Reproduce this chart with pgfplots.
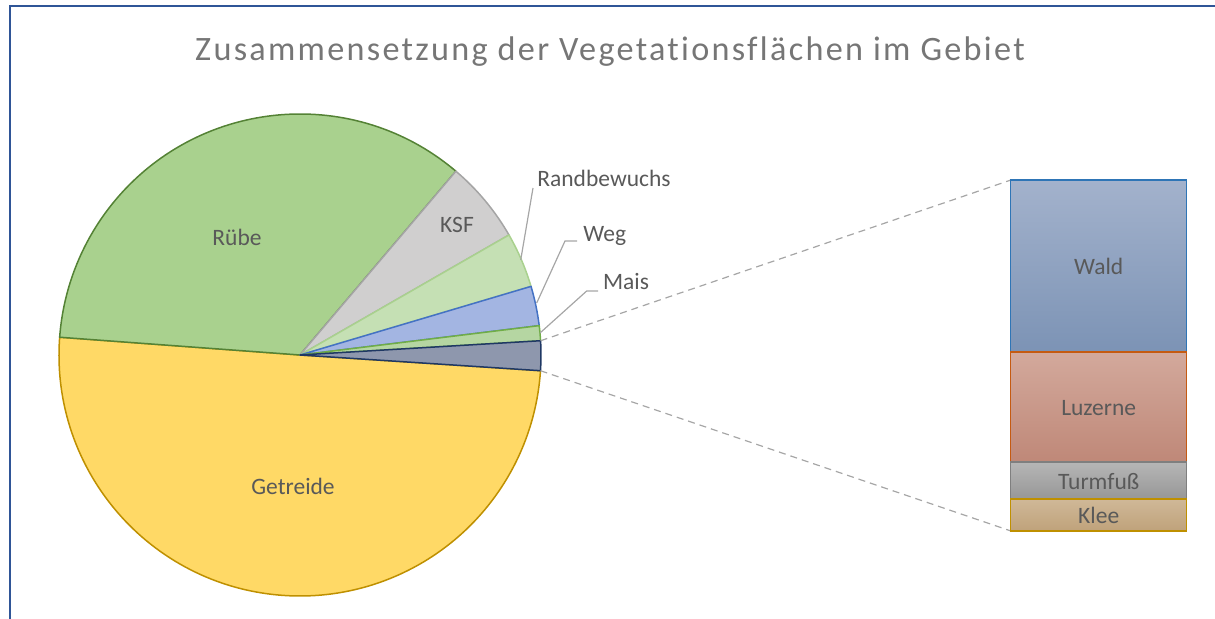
\documentclass[border=0pt]{standalone}
\usepackage{pgfplots}
\pgfplotsset{compat=1.18}
\usepackage{fontspec}
\setmainfont{Carlito}
\newfontfamily\titlefont[LetterSpace=6.7,Ligatures=NoCommon]{Carlito}
\definecolor{txt}{HTML}{595959}
\definecolor{ttl}{HTML}{767676}
\definecolor{frame}{HTML}{2F5597}
\definecolor{lead}{HTML}{A6A6A6}
\definecolor{getF}{HTML}{FFD966}\definecolor{getE}{HTML}{BF9000}
\definecolor{rubF}{HTML}{A9D18E}\definecolor{rubE}{HTML}{548235}
\definecolor{ksfF}{HTML}{D0CFCF}\definecolor{ksfE}{HTML}{A5A5A5}
\definecolor{ranF}{HTML}{C5E0B4}\definecolor{ranE}{HTML}{A9D18E}
\definecolor{wegF}{HTML}{A3B5E2}\definecolor{wegE}{HTML}{4472C4}
\definecolor{maiF}{HTML}{B5D6A2}\definecolor{maiE}{HTML}{70AD47}
\definecolor{othF}{HTML}{8E97AD}\definecolor{othE}{HTML}{1F3864}
\definecolor{kleT}{HTML}{CFB898}\definecolor{kleB}{HTML}{BFA27A}\definecolor{kleE}{HTML}{BF9000}
\definecolor{turT}{HTML}{B6B6B6}\definecolor{turB}{HTML}{979797}\definecolor{turE}{HTML}{7F7F7F}
\definecolor{luzT}{HTML}{D3A99C}\definecolor{luzB}{HTML}{BF8878}\definecolor{luzE}{HTML}{C55A11}
\definecolor{walT}{HTML}{A3B2CC}\definecolor{walB}{HTML}{7C93B5}\definecolor{walE}{HTML}{2E75B6}
\begin{document}
\begin{tikzpicture}[x=1bp,y=1bp]
\useasboundingbox (0,0) rectangle (1215,619);
% --- data (percent of area) ---
\def\vGetreide{50.1}\def\vRuebe{35.0}\def\vKSF{5.5}\def\vRand{3.7}\def\vWeg{2.65}\def\vMais{1.0}
\def\vWald{0.97}\def\vLuzerne{0.62}\def\vTurm{0.21}\def\vKlee{0.18}
\pgfmathsetmacro{\vOther}{\vWald+\vLuzerne+\vTurm+\vKlee}
\pgfmathsetmacro{\vTot}{\vGetreide+\vRuebe+\vKSF+\vRand+\vWeg+\vMais+\vOther}
\pgfmathsetmacro{\degk}{360/\vTot}
\pgfmathsetmacro{\aA}{-3.74}
\pgfmathsetmacro{\aB}{\aA+\vOther*\degk}
\pgfmathsetmacro{\aC}{\aB+\vMais*\degk}
\pgfmathsetmacro{\aD}{\aC+\vWeg*\degk}
\pgfmathsetmacro{\aE}{\aD+\vRand*\degk}
\pgfmathsetmacro{\aF}{\aE+\vKSF*\degk}
\pgfmathsetmacro{\aG}{\aF+\vRuebe*\degk}
\pgfmathsetmacro{\aH}{\aG+\vGetreide*\degk}
\def\R{241bp}
\begin{axis}[at={(0bp,0bp)},anchor=south west,x=1bp,y=1bp,
  xmin=0,xmax=1215,ymin=0,ymax=619,hide axis,clip=false]
 % frame
 \draw[frame,line width=2bp] (axis cs:9.5,0) -- (axis cs:9.5,612.5) -- (axis cs:1215,612.5);
 % title
 \node[ttl,anchor=base,font=\titlefont\fontsize{34.2bp}{40bp}\selectfont] at (axis cs:610,558) {Zusammensetzung der Vegetationsflächen im Gebiet};
 % pie slices
 \begin{scope}[line width=1.5bp,line join=round]
 \filldraw[fill=getF,draw=getE] (axis cs:300,264) -- ++(\aG:\R) arc[start angle=\aG,end angle=\aH,radius=\R] -- cycle;
 \filldraw[fill=rubF,draw=rubE] (axis cs:300,264) -- ++(\aF:\R) arc[start angle=\aF,end angle=\aG,radius=\R] -- cycle;
 \filldraw[fill=ksfF,draw=ksfE] (axis cs:300,264) -- ++(\aE:\R) arc[start angle=\aE,end angle=\aF,radius=\R] -- cycle;
 \filldraw[fill=ranF,draw=ranE] (axis cs:300,264) -- ++(\aD:\R) arc[start angle=\aD,end angle=\aE,radius=\R] -- cycle;
 \filldraw[fill=wegF,draw=wegE] (axis cs:300,264) -- ++(\aC:\R) arc[start angle=\aC,end angle=\aD,radius=\R] -- cycle;
 \filldraw[fill=maiF,draw=maiE] (axis cs:300,264) -- ++(\aB:\R) arc[start angle=\aB,end angle=\aC,radius=\R] -- cycle;
 \filldraw[fill=othF,draw=othE] (axis cs:300,264) -- ++(\aA:\R) arc[start angle=\aA,end angle=\aB,radius=\R] -- cycle;
 \end{scope}
 % connectors to bar
 \draw[lead,line width=1.2bp,dash pattern=on 7bp off 5bp] (axis cs:300,264) ++(\aB:\R) -- (axis cs:1011,439);
 \draw[lead,line width=1.2bp,dash pattern=on 7bp off 5bp] (axis cs:300,264) ++(\aA:\R) -- (axis cs:1011,88);
 % leader lines
 \draw[lead,line width=1.2bp] (axis cs:520.7,359) -- (axis cs:533,431);
 \draw[lead,line width=1.2bp] (axis cs:536.7,316) -- (axis cs:565,378) -- (axis cs:577,378);
 \draw[lead,line width=1.2bp] (axis cs:540,286) -- (axis cs:586.7,328) -- (axis cs:598,328);
 % labels
 \begin{scope}[every node/.style={txt,anchor=base,font=\fontsize{23.5bp}{28bp}\selectfont}]
 \node at (axis cs:237,373) {Rübe};
 \node at (axis cs:293,124) {Getreide};
 \node at (axis cs:457,386) {KSF};
 \node at (axis cs:604,432) {Randbewuchs};
 \node at (axis cs:604.7,377.3) {Weg};
 \node at (axis cs:626,329) {Mais};
 \end{scope}
\end{axis}
% --- bar of the "other" slice ---
\begin{axis}[at={(1010.7bp,88bp)},anchor=south west,width=176bp,height=351bp,scale only axis,
  xmin=-0.5,xmax=0.5,ymin=0,ymax=\vOther,hide axis,clip=false,
  ybar stacked,bar width=176bp]
 \addplot[draw=kleE,line width=1.5bp,top color=kleT,bottom color=kleB] coordinates {(0,\vKlee)};
 \addplot[draw=turE,line width=1.5bp,top color=turT,bottom color=turB] coordinates {(0,\vTurm)};
 \addplot[draw=luzE,line width=1.5bp,top color=luzT,bottom color=luzB] coordinates {(0,\vLuzerne)};
 \addplot[draw=walE,line width=1.5bp,top color=walT,bottom color=walB] coordinates {(0,\vWald)};
\end{axis}
% bar labels
\begin{scope}[every node/.style={txt,anchor=base,font=\fontsize{23.5bp}{28bp}\selectfont}]
 \node at (1098.7bp,344bp) {Wald};
 \node at (1098.7bp,203bp) {Luzerne};
 \node at (1098.7bp,129bp) {Turmfuß};
 \node at (1098.7bp,95.7bp) {Klee};
\end{scope}
\end{tikzpicture}
\end{document}
